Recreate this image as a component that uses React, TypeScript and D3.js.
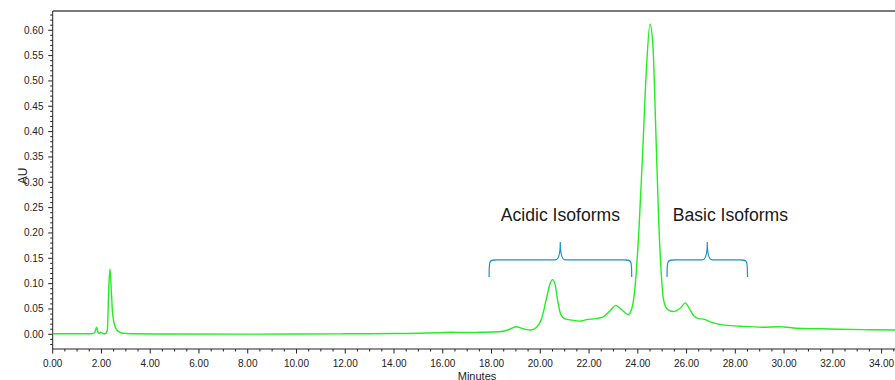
import * as d3 from "d3";

// chromatogram trace: [minutes, AU]
const trace: [number, number][] = [
  [0, 0.001], [1.0, 0.001], [1.6, 0.001], [1.72, 0.003], [1.8, 0.014], [1.86, 0.004],
  [1.92, 0.002], [1.97, 0.004], [2.04, 0.002], [2.15, 0.001], [2.24, 0.008], [2.3, 0.09],
  [2.35, 0.129], [2.4, 0.09], [2.45, 0.045], [2.52, 0.022], [2.62, 0.009], [2.75, 0.004],
  [2.9, 0.002], [3.2, 0.001], [5, 0.0005], [8, 0.0003], [10, 0.0005], [12, 0.001],
  [14, 0.0015], [15, 0.002], [15.8, 0.003], [16.4, 0.004], [16.8, 0.0035], [17.5, 0.004],
  [18.3, 0.005], [18.7, 0.009], [19.0, 0.015], [19.3, 0.011], [19.6, 0.0085], [19.85, 0.014],
  [20.05, 0.03], [20.25, 0.07], [20.4, 0.1], [20.5, 0.108], [20.6, 0.1], [20.72, 0.065],
  [20.85, 0.038], [21.0, 0.031], [21.3, 0.028], [21.6, 0.026], [21.9, 0.029], [22.3, 0.031],
  [22.6, 0.035], [22.85, 0.046], [23.1, 0.057], [23.35, 0.048], [23.6, 0.039], [23.75, 0.05],
  [23.9, 0.1], [24.05, 0.21], [24.2, 0.36], [24.35, 0.52], [24.5, 0.612], [24.62, 0.57],
  [24.74, 0.4], [24.86, 0.22], [24.95, 0.13], [25.05, 0.07], [25.2, 0.05], [25.45, 0.045],
  [25.75, 0.052], [25.95, 0.062], [26.1, 0.052], [26.3, 0.036], [26.5, 0.031], [26.7, 0.03],
  [27.0, 0.024], [27.4, 0.019], [28.2, 0.016], [29.1, 0.014], [29.8, 0.015], [30.0, 0.0145],
  [30.5, 0.012], [31.5, 0.011], [32.3, 0.01], [33.5, 0.009], [34.6, 0.0085],
];

const xMajorTicks = [0, 2, 4, 6, 8, 10, 12, 14, 16, 18, 20, 22, 24, 26, 28, 30, 32, 34];
const yMajorTicks = [0, 0.05, 0.1, 0.15, 0.2, 0.25, 0.3, 0.35, 0.4, 0.45, 0.5, 0.55, 0.6];

// bracket annotations: start, cusp, end (minutes)
const groups = [
  { label: "Acidic Isoforms", start: 17.9, cusp: 20.82, end: 23.75, textAt: 18.38 },
  { label: "Basic Isoforms", start: 25.2, cusp: 26.85, end: 28.5, textAt: 25.43 },
];

export default function App() {
  const width = 895;
  const height = 380;
  const margin = { top: 11, right: 0, bottom: 31, left: 52.7 };

  const x = d3.scaleLinear().domain([0, 34.55]).range([margin.left, width - margin.right]);
  const y = d3.scaleLinear().domain([-0.029, 0.638]).range([height - margin.bottom, margin.top]);

  const line = d3
    .line<[number, number]>()
    .x(d => x(d[0]))
    .y(d => y(d[1]))
    .curve(d3.curveMonotoneX);

  const fmt = d3.format(".2f");
  const xMinor = d3.range(0, 34.6, 0.5).filter(v => Math.abs(v % 2) > 1e-6);
  const yMinor = d3.range(-2, 64, 1).map(v => v / 100).filter(v => Math.round(v * 100) % 5 !== 0);
  const font = "'Liberation Sans', Arial, sans-serif";
  const axisY = height - margin.bottom;

  const bracket = (g: { start: number; cusp: number; end: number }) => {
    const x0 = x(g.start), xm = x(g.cusp), x1 = x(g.end);
    const yb = y(0.113), yh = y(0.147), yt = y(0.182);
    return `M${x0},${yb} C${x0},${yh} ${x0},${yh} ${x0 + 8},${yh} L${xm - 5},${yh} Q${xm},${yh} ${xm},${yt} Q${xm},${yh} ${xm + 5},${yh} L${x1 - 8},${yh} C${x1},${yh} ${x1},${yh} ${x1},${yb}`;
  };

  return (
    <svg
      width={width}
      height={height}
      style={{ position: "absolute", left: 0, top: 0, background: "#fff" }}
    >
      {/* top frame */}
      <line x1={margin.left} x2={width} y1={margin.top} y2={margin.top} stroke="#7a7a7a" strokeWidth={2} />

      {/* y axis */}
      <line x1={margin.left} x2={margin.left} y1={margin.top} y2={axisY} stroke="#222" />
      {yMinor.map(v => (
        <line key={"ym" + v} x1={margin.left - 2.5} x2={margin.left} y1={y(v)} y2={y(v)} stroke="#222" />
      ))}
      {yMajorTicks.map(v => (
        <g key={"y" + v}>
          <line x1={margin.left - 4.5} x2={margin.left} y1={y(v)} y2={y(v)} stroke="#222" />
          <text x={43.5} y={y(v)} dy="0.35em" textAnchor="end" fontSize={10} fontFamily={font} fill="#222">
            {fmt(v)}
          </text>
        </g>
      ))}
      <text
        transform={`translate(26.5,176) rotate(-90)`}
        textAnchor="middle"
        fontSize={12}
        fontFamily={font}
        fill="#222"
      >
        AU
      </text>

      {/* x axis */}
      <line x1={margin.left} x2={width} y1={axisY} y2={axisY} stroke="#222" />
      {xMinor.map(v => (
        <line key={"xm" + v} x1={x(v)} x2={x(v)} y1={axisY} y2={axisY + 2.5} stroke="#222" />
      ))}
      {xMajorTicks.map(v => (
        <g key={"x" + v}>
          <line x1={x(v)} x2={x(v)} y1={axisY} y2={axisY + 4.5} stroke="#222" />
          <text x={x(v)} y={366.5} textAnchor="middle" fontSize={10} fontFamily={font} fill="#222">
            {fmt(v)}
          </text>
        </g>
      ))}
      <text x={477} y={379.5} textAnchor="middle" fontSize={11} fontFamily={font} fill="#222">
        Minutes
      </text>

      {/* trace */}
      <path d={line(trace) ?? ""} fill="none" stroke="#22ee22" strokeWidth={1.4} />

      {/* isoform brackets and labels */}
      {groups.map(g => (
        <g key={g.label}>
          <path d={bracket(g)} fill="none" stroke="#1f8fd0" strokeWidth={1.2} />
          <text x={x(g.textAt)} y={221} fontSize={17.6} fontFamily={font} fill="#1a1a1a">
            {g.label}
          </text>
        </g>
      ))}
    </svg>
  );
}
